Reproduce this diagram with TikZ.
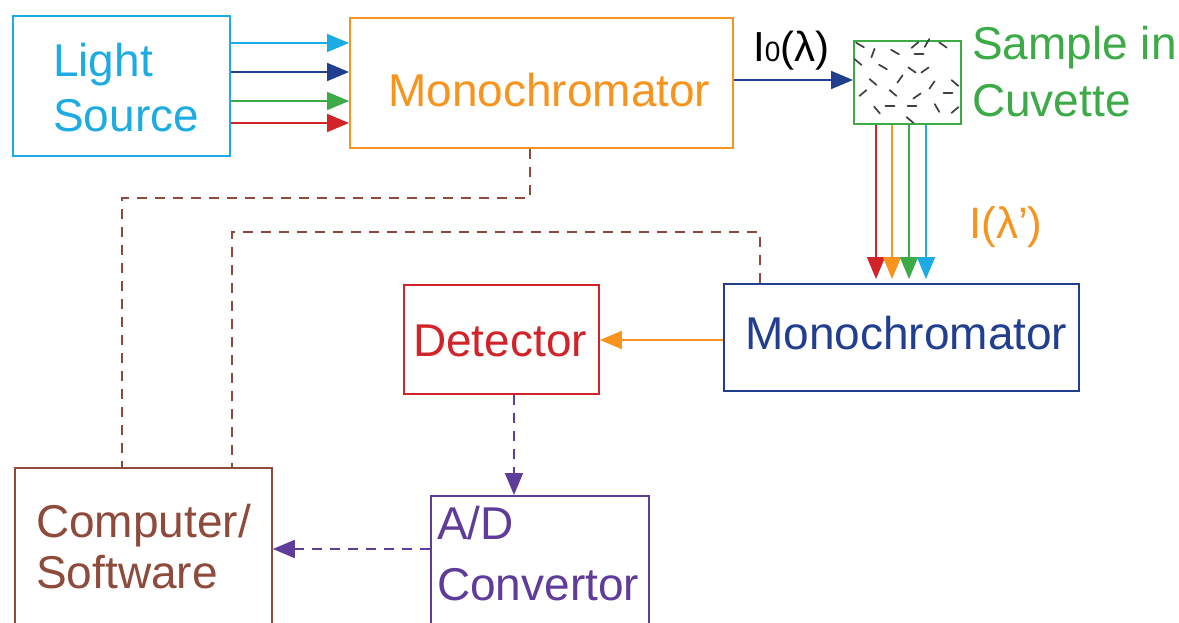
\documentclass[tikz,border=0pt]{standalone}
\usepackage{fontspec}
\setmainfont{Liberation Sans}
\usetikzlibrary{arrows.meta}
\definecolor{ccyan}{HTML}{1CABE2}
\definecolor{corange}{HTML}{F7941E}
\definecolor{cgreen}{HTML}{3BAA47}
\definecolor{cnavy}{HTML}{223F8F}
\definecolor{cred}{HTML}{D2232A}
\definecolor{cpurple}{HTML}{5F3C9A}
\definecolor{cbrown}{HTML}{8E4A3A}
\tikzset{
  box/.style={draw=#1, line width=1.8pt, rectangle, inner sep=0pt, anchor=north west},
  txt/.style={text=#1, font=\fontsize{46}{55}\selectfont, inner sep=0pt, anchor=base west},
  arr/.style={draw=#1, line width=1.8pt, -{Triangle[length=22pt,width=18pt]}},
  darr/.style={draw=#1, line width=1.8pt, dash pattern=on 10pt off 8pt, -{Triangle[length=22pt,width=18pt]}},
  dline/.style={draw=#1, line width=1.7pt, dash pattern=on 10pt off 8pt},
  speck/.style={draw=black!75, line width=1.7pt, line cap=round}
}
\begin{document}
\begin{tikzpicture}[x=1pt,y=-1pt]
\useasboundingbox (0,0) rectangle (1179,623);
\clip (0,0) rectangle (1179,623);
\fill[white] (0,0) rectangle (1179,623);
% boxes
\node[box=ccyan, minimum width=217pt, minimum height=140pt] (ls) at (12,15) {};
\node[box=corange, minimum width=383pt, minimum height=130pt] (m1) at (349,17) {};
\node[box=cgreen, minimum width=107pt, minimum height=83pt] (cuv) at (853,40) {};
\node[box=cnavy, minimum width=355pt, minimum height=107pt] (m2) at (723,283) {};
\node[box=cred, minimum width=195pt, minimum height=109pt] (det) at (403,284) {};
\node[box=cpurple, minimum width=218pt, minimum height=160pt] (ad) at (430,495) {};
\node[box=cbrown, minimum width=257pt, minimum height=190pt] (comp) at (14,467) {};
% texts
\node[txt=ccyan] (t1) at (53,77) {Light};
\node[txt=ccyan] (t2) at (53,132) {Source};
\node[txt=corange] (t3) at (388,107) {Monochromator};
\node[txt=cgreen] (t4) at (972,60) {Sample in};
\node[txt=cgreen] (t5) at (972,117) {Cuvette};
\node[txt=cnavy] (t6) at (745,349) {Monochromator};
\node[txt=cred] (t7) at (413,356) {Detector};
\node[txt=cpurple] (t8) at (437,539) {A/D};
\node[txt=cpurple] (t9) at (437,600) {Convertor};
\node[txt=cbrown] (t10) at (36,537) {Computer/};
\node[txt=cbrown] (t11) at (36,588) {Software};
\node[text=black, font=\fontsize{42}{46}\selectfont, inner sep=0pt, anchor=base west] (t12) at (753,62) {I{\fontsize{28}{30}\selectfont 0}(λ)};
\node[text=corange, font=\fontsize{44}{48}\selectfont, inner sep=0pt, anchor=base west] (t13) at (969,238) {I(λ{\char"0027})};
% light source arrows
\draw[arr=ccyan] (ls.east |- 0,43) -- (m1.west |- 0,43);
\draw[arr=cnavy] (ls.east |- 0,72) -- (m1.west |- 0,72);
\draw[arr=cgreen] (ls.east |- 0,101) -- (m1.west |- 0,101);
\draw[arr=cred] (ls.east |- 0,123) -- (m1.west |- 0,123);
% I0 arrow
\draw[arr=cnavy] (m1.east |- 0,80) -- (cuv.west |- 0,80);
% down arrows
\draw[arr=cred, shorten >=4pt] (cuv.south -| 876,0) -- (m2.north -| 876,0);
\draw[arr=corange, shorten >=4pt] (cuv.south -| 892,0) -- (m2.north -| 892,0);
\draw[arr=cgreen, shorten >=4pt] (cuv.south -| 909,0) -- (m2.north -| 909,0);
\draw[arr=ccyan, shorten >=4pt] (cuv.south -| 926,0) -- (m2.north -| 926,0);
% mono2 -> detector
\draw[arr=corange] (m2.west |- 0,340) -- (det.east |- 0,340);
% detector -> A/D
\draw[darr=cpurple] (det.south -| 514,0) -- (ad.north -| 514,0);
% A/D -> computer
\draw[darr=cpurple] (ad.west |- 0,549) -- (comp.east |- 0,549);
% brown control lines
\coordinate (b1) at (530,198);
\coordinate (b2) at (122,198);
\coordinate (c1) at (760,232);
\coordinate (c2) at (232,232);
\draw[dline=cbrown] (m1.south -| b1) -- (b1) -- (b2) -- (comp.north -| b2);
\draw[dline=cbrown] (m2.north -| c1) -- (c1) -- (c2) -- (comp.north -| c2);
% cuvette specks
\foreach \x/\y/\a in {873/53/70, 895/52/-30, 915/45/40, 927/43/60, 943/45/-35, 919/54/0,
  858/62/-40, 883/67/-30, 912/70/-35, 925/70/35, 900/79/55, 873/82/-40, 932/85/55,
  955/83/-40, 863/93/40, 893/93/-40, 917/96/35, 948/93/0, 877/110/-50, 890/106/0,
  912/106/0, 937/108/-60, 955/110/40, 910/120/-40, 860/45/-30}
  \draw[speck, shift={(\x,\y)}, rotate=\a] (-4.5,0) -- (4.5,0);
\end{tikzpicture}
\end{document}
